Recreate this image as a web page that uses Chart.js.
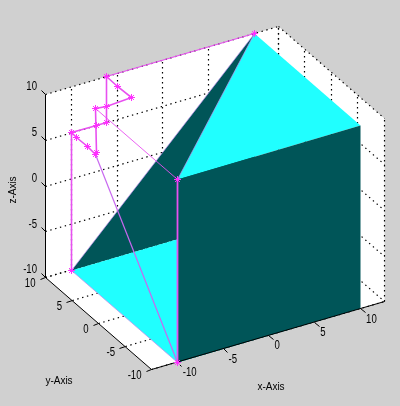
<!DOCTYPE html>
<html>
<head>
<meta charset="utf-8">
<title>3D box</title>
<style>
html, body { margin: 0; padding: 0; background: #d0d0d0; }
canvas { display: block; }
</style>
<script src="https://cdn.jsdelivr.net/npm/chart.js@4"></script>
</head>
<body>
<canvas id="myChart" width="400" height="406"></canvas>
<script>
// axis ticks and labels
var xTicks = [-10, -5, 0, 5, 10];
var yTicks = [-10, -5, 0, 5, 10];
var zTicks = [-10, -5, 0, 5, 10];
var xLimits = [-12.8, 12.6];
var yLimits = [-10, 10];
var zLimits = [-10, 10];
var axisNames = ['x-Axis', 'y-Axis', 'z-Axis'];

// corners of the two cyan and two dark faces
var backFaceX = [-10, 10, 10];
var backFaceY = [10, 10, 10];
var backFaceZ = [-10, 10, -10];
var floorFaceX = [-10, -10, 10, 10];
var floorFaceY = [10, -10, -10, 10];
var floorFaceZ = [-10, -10, -10, -10];
var topFaceX = [-10, 10, 10];
var topFaceY = [-10, -10, 10];
var topFaceZ = [10, 10, 10];
var frontFaceX = [-10, -10, 10, 10];
var frontFaceY = [-10, -10, -10, -10];
var frontFaceZ = [-10, 10, 10, -10];

// the magenta line, all on the y=10 wall
var pathX = [-10, -10, -9.4, -8.2, -7.3, -7.25, -7.3, -6.2, -3.4, -5, -6.2, -6.2, -7.2, -10];
var pathZ = [-10, 5, 4.3, 3, 1.9, 2.1, 6.9, 6.8, 6.9, 8.6, 10, 5, 5, 5];
// lines from that wall out to the surface corners
var spokeX = [[-6.2, 10], [-7.3, -10], [-7.3, -10]];
var spokeY = [[10, 10], [10, -10], [10, -10]];
var spokeZ = [[10, 10], [6.9, 10], [1.9, -10]];
// surface corners with an asterisk
var cornerX = [-10, -10, -10, 10];
var cornerY = [10, -10, -10, 10];
var cornerZ = [-10, -10, 10, 10];

// view of the box, px per data unit
function sx(x, y, z) { return 215.4 + 9.17 * x - 5.3 * y; }
function sy(x, y, z) { return 197.5 - 2.66 * x - 4.6 * y - 9.15 * z; }

function pts(xs, ys, zs) {
    return xs.map(function (x, i) {
        return { x: Math.round(sx(x, ys[i], zs[i])) + 0.5, y: Math.round(sy(x, ys[i], zs[i])) + 0.5 };
    });
}
function seg(a, b) { return pts([a[0], b[0]], [a[1], b[1]], [a[2], b[2]]); }

var layers = [];
function face(data, color) {
    layers.push({ data: data, showLine: true, fill: 'shape', backgroundColor: color, borderColor: color, borderWidth: 0, pointRadius: 0, tension: 0 });
}
function stroke(data, color, width, dash) {
    layers.push({ data: data, showLine: true, fill: false, borderColor: color, borderWidth: width, borderDash: dash || [], pointRadius: 0, tension: 0 });
}

var x0 = xLimits[0], x1 = xLimits[1], y0 = yLimits[0], y1 = yLimits[1], z0 = zLimits[0], z1 = zLimits[1];

// white walls
face(pts([x0, x1, x1, x0], [y1, y1, y1, y1], [z0, z0, z1, z1]), '#ffffff');
face(pts([x1, x1, x1, x1], [y1, y0, y0, y1], [z0, z0, z1, z1]), '#ffffff');
face(pts([x0, x1, x1, x0], [y0, y0, y1, y1], [z0, z0, z0, z0]), '#ffffff');

// dotted grid
var dots = [1.4, 3.6];
xTicks.forEach(function (t) {
    stroke(seg([t, y1, z0], [t, y1, z1]), '#000', 1.2, dots);
});
yTicks.forEach(function (t) {
    stroke(seg([x1, t, z0], [x1, t, z1]), '#000', 1.2, dots);
    stroke(seg([x0, t, z0], [x1, t, z0]), '#000', 1.2, dots);
});
zTicks.forEach(function (t) {
    stroke(seg([x0, y1, t], [x1, y1, t]), '#000', 1.2, dots);
    stroke(seg([x1, y1, t], [x1, y0, t]), '#000', 1.2, dots);
});
stroke(seg([x1, y1, z0], [x1, y1, z1]), '#000', 1.2, dots);

// surfaces, back to front
face(pts(backFaceX, backFaceY, backFaceZ), '#005558');
face(pts(floorFaceX, floorFaceY, floorFaceZ), '#20ffff');
face(pts(topFaceX, topFaceY, topFaceZ), '#20ffff');
face(pts(frontFaceX, frontFaceY, frontFaceZ), '#005558');

// solid axes and tick marks
stroke(seg([x0, y0, z0], [x1, y0, z0]), '#000', 1);
stroke(seg([x0, y0, z0], [x0, y1, z0]), '#000', 1);
stroke(seg([x0, y1, z0], [x0, y1, z1]), '#000', 1);
xTicks.forEach(function (t) { stroke(seg([t, y0, z0], [t, y0 - 0.85, z0]), '#000', 1); });
yTicks.forEach(function (t) { stroke(seg([x0, t, z0], [x0 - 0.6, t, z0]), '#000', 1); });
zTicks.forEach(function (t) { stroke(seg([x0, y1, t], [x0, y1 + 0.85, t]), '#000', 1); });

// faint edges of the surface
var edge = '#c090f0';
stroke(pts([-10, 10], [10, 10], [-10, 10]), edge, 0.7);
stroke(pts([-10, -10], [10, -10], [-10, -10]), edge, 0.8);
stroke(pts([-10, 10], [-10, 10], [10, 10]), edge, 0.7);

// magenta line with asterisks
var magenta = '#e850f0';
var star = '#ff30ff';
stroke(pts([-10, -10], [-10, -10], [-10, 10]), magenta, 1.8);
stroke(pts(spokeX[0], spokeY[0], spokeZ[0]), magenta, 1.2);
stroke(pts(spokeX[1], spokeY[1], spokeZ[1]), magenta, 0.9);
stroke(pts(spokeX[2], spokeY[2], spokeZ[2]), '#c868f0', 1.2);
layers.push({
    data: pts(pathX, pathX.map(function () { return y1; }), pathZ), showLine: true, fill: false, borderColor: magenta, borderWidth: 1.6, tension: 0,
    pointStyle: 'star', pointRadius: 3.5, pointBorderColor: star, pointBorderWidth: 1
});
layers.push({
    data: pts(cornerX, cornerY, cornerZ), showLine: false,
    pointStyle: 'star', pointRadius: 3.5, pointBorderColor: star, pointBorderWidth: 1
});

layers.forEach(function (d, i) { d.order = layers.length - i; });

// narrow tick label, MATLAB's helvetica is tighter than what is installed
function tickText(ctx, s, x, y, align) {
    ctx.save();
    ctx.translate(x, y);
    ctx.scale(0.8, 1);
    ctx.textAlign = align;
    ctx.fillText(s, 0, 0);
    ctx.restore();
}

// tick labels and axis names
var textPlugin = {
    id: 'axisText',
    afterDatasetsDraw: function (chart) {
        var ctx = chart.ctx;
        ctx.save();
        ctx.fillStyle = '#000';
        ctx.textBaseline = 'middle';
        ctx.font = '12px "Liberation Sans", Arial, sans-serif';
        zTicks.forEach(function (t) {
            tickText(ctx, String(t), sx(x0, y1, t) - 8, sy(x0, y1, t) - 7, 'right');
        });
        yTicks.forEach(function (t) {
            tickText(ctx, String(t), sx(x0, t, z0) - 9.5, sy(x0, t, z0) + 7, 'right');
        });
        xTicks.forEach(function (t) {
            tickText(ctx, String(t), sx(t, y0, z0) + 6, sy(t, y0, z0) + 11, 'left');
        });
        ctx.textAlign = 'center';
        ctx.font = '10px "Liberation Sans", Arial, sans-serif';
        ctx.fillText(axisNames[0], 271, 387);
        ctx.fillText(axisNames[1], 59, 381);
        ctx.translate(13, 190);
        ctx.rotate(-Math.PI / 2);
        ctx.fillText(axisNames[2], 0, 0);
        ctx.restore();
    }
};

var myChart = new Chart(document.getElementById('myChart').getContext('2d'), {
    type: 'scatter',
    data: { datasets: layers },
    options: {
        responsive: false,
        animation: false,
        layout: { padding: 0, autoPadding: false },
        plugins: { legend: { display: false }, tooltip: { enabled: false } },
        scales: {
            x: { type: 'linear', display: false, min: 0, max: 400 },
            y: { type: 'linear', display: false, min: 0, max: 406, reverse: true }
        }
    },
    plugins: [textPlugin]
});
</script>
</body>
</html>
